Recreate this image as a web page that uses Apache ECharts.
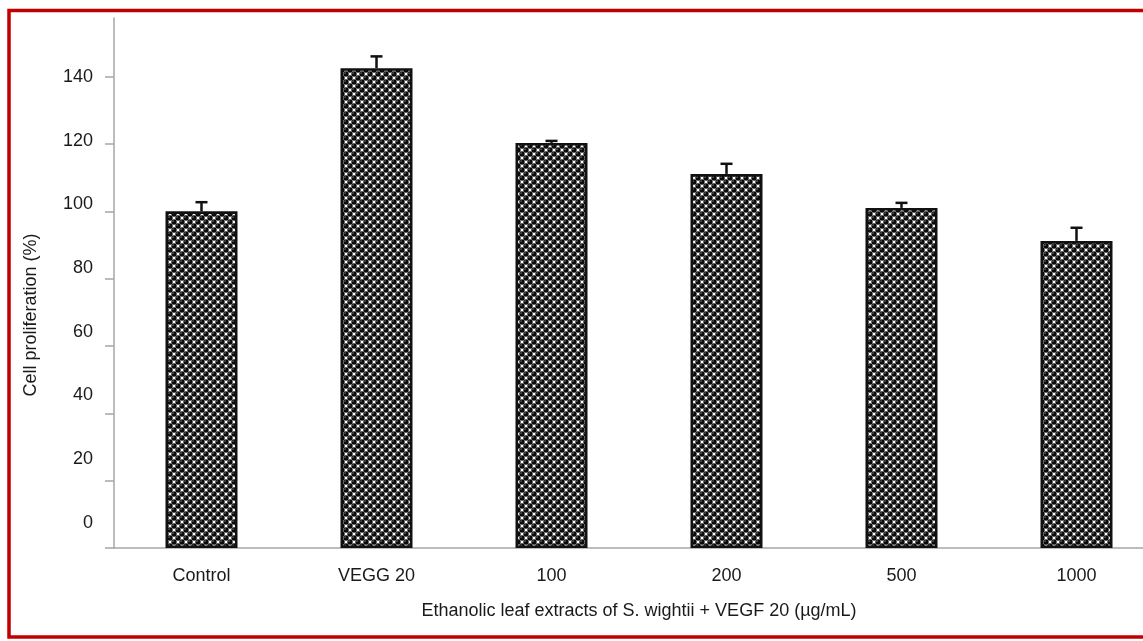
<!DOCTYPE html>
<html>
<head>
<meta charset="utf-8">
<script src="https://cdn.jsdelivr.net/npm/echarts@6/dist/echarts.min.js"></script>
<style>
  html, body { margin: 0; padding: 0; background: #fff; }
  #chart { width: 1143px; height: 641px; }
</style>
</head>
<body>
<div id="chart"></div>
<script>
// 数据
const categories = ['Control', 'VEGG 20', '100', '200', '500', '1000'];
const proliferation = [100, 142.5, 120.3, 111.1, 101, 91.2];
const errors = [2.7, 3.5, 0.6, 3.0, 1.5, 3.9];
const yTicks = [0, 20, 40, 60, 80, 100, 120, 140];

// 柱子的圆点花纹
function makePattern() {
  const s = 8;
  const c = document.createElement('canvas');
  c.width = s;
  c.height = s;
  const ctx = c.getContext('2d');
  ctx.fillStyle = '#fff';
  ctx.fillRect(0, 0, s, s);
  const balls = [[2, 2], [6, 6], [-2, 6], [10, 2], [6, -2], [2, 10]];
  balls.forEach(([x, y]) => {
    ctx.beginPath();
    ctx.arc(x, y, 2.7, 0, Math.PI * 2);
    ctx.fillStyle = '#0a0a0a';
    ctx.fill();
    ctx.beginPath();
    ctx.arc(x - 0.9, y - 0.9, 0.7, 0, Math.PI * 2);
    ctx.fillStyle = '#aaa';
    ctx.fill();
  });
  return c;
}

const chart = echarts.init(document.getElementById('chart'));

const option = {
  animation: false,
  backgroundColor: '#fff',
  textStyle: { fontFamily: 'Liberation Sans, Arial, sans-serif', color: '#1a1a1a' },
  // 图的右边被裁掉一部分，所以网格比画布宽
  grid: { left: 114, width: 1050, top: 18, height: 530, outerBoundsMode: 'none', containLabel: false },
  xAxis: {
    type: 'category',
    data: categories,
    axisLine: { lineStyle: { color: '#a6a6a6', width: 1.5 } },
    axisTick: { length: 7, lineStyle: { color: '#a6a6a6', width: 1.5 } },
    axisLabel: { fontSize: 18, color: '#1a1a1a', margin: 19, interval: 0 },
    name: 'Ethanolic leaf extracts of S. wightii + VEGF 20 (µg/mL)',
    nameLocation: 'middle',
    nameGap: 54,
    nameTextStyle: { fontSize: 18, color: '#1a1a1a' }
  },
  yAxis: [
    {
      type: 'value',
      min: 0,
      max: 157.4,
      interval: 20,
      axisLine: { show: true, lineStyle: { color: '#a6a6a6', width: 1.5 } },
      axisTick: { show: true, length: 9, customValues: yTicks, lineStyle: { color: '#a6a6a6', width: 1.5 } },
      axisLabel: { show: false },
      splitLine: { show: false }
    },
    {
      // 原图的刻度文字与刻度线没有对齐，这里用一个只显示文字的轴
      type: 'value',
      position: 'left',
      min: -7.94,
      max: 158.5,
      axisLine: { show: false },
      axisTick: { show: false },
      splitLine: { show: false },
      axisLabel: { fontSize: 18, color: '#1a1a1a', margin: 21, customValues: yTicks }
    }
  ],
  series: [
    {
      type: 'bar',
      data: proliferation,
      barWidth: 72,
      itemStyle: {
        color: { image: makePattern(), repeat: 'repeat' },
        borderColor: '#111',
        borderWidth: 2.6
      }
    },
    {
      type: 'custom',
      z: 5,
      data: categories.map((c, i) => [i, proliferation[i], errors[i]]),
      renderItem: function (params, api) {
        const base = api.coord([api.value(0), api.value(1)]);
        const top = api.coord([api.value(0), api.value(1) + api.value(2)]);
        const style = { stroke: '#111', lineWidth: 2.5 };
        return {
          type: 'group',
          children: [
            { type: 'line', shape: { x1: base[0], y1: base[1], x2: top[0], y2: top[1] }, style: style },
            { type: 'line', shape: { x1: top[0] - 6, y1: top[1], x2: top[0] + 6, y2: top[1] }, style: style }
          ]
        };
      }
    }
  ],
  graphic: [
    {
      type: 'text',
      x: 31,
      y: 315,
      rotation: Math.PI / 2,
      style: {
        text: 'Cell proliferation (%)',
        fontSize: 18,
        fontFamily: 'Liberation Sans, Arial, sans-serif',
        fill: '#1a1a1a',
        align: 'center',
        verticalAlign: 'middle'
      }
    },
    {
      type: 'rect',
      z: 100,
      shape: { x: 9, y: 10.5, width: 1200, height: 626.5 },
      style: { fill: 'none', stroke: '#c00000', lineWidth: 3.5 }
    }
  ]
};

chart.setOption(option);
</script>
</body>
</html>
